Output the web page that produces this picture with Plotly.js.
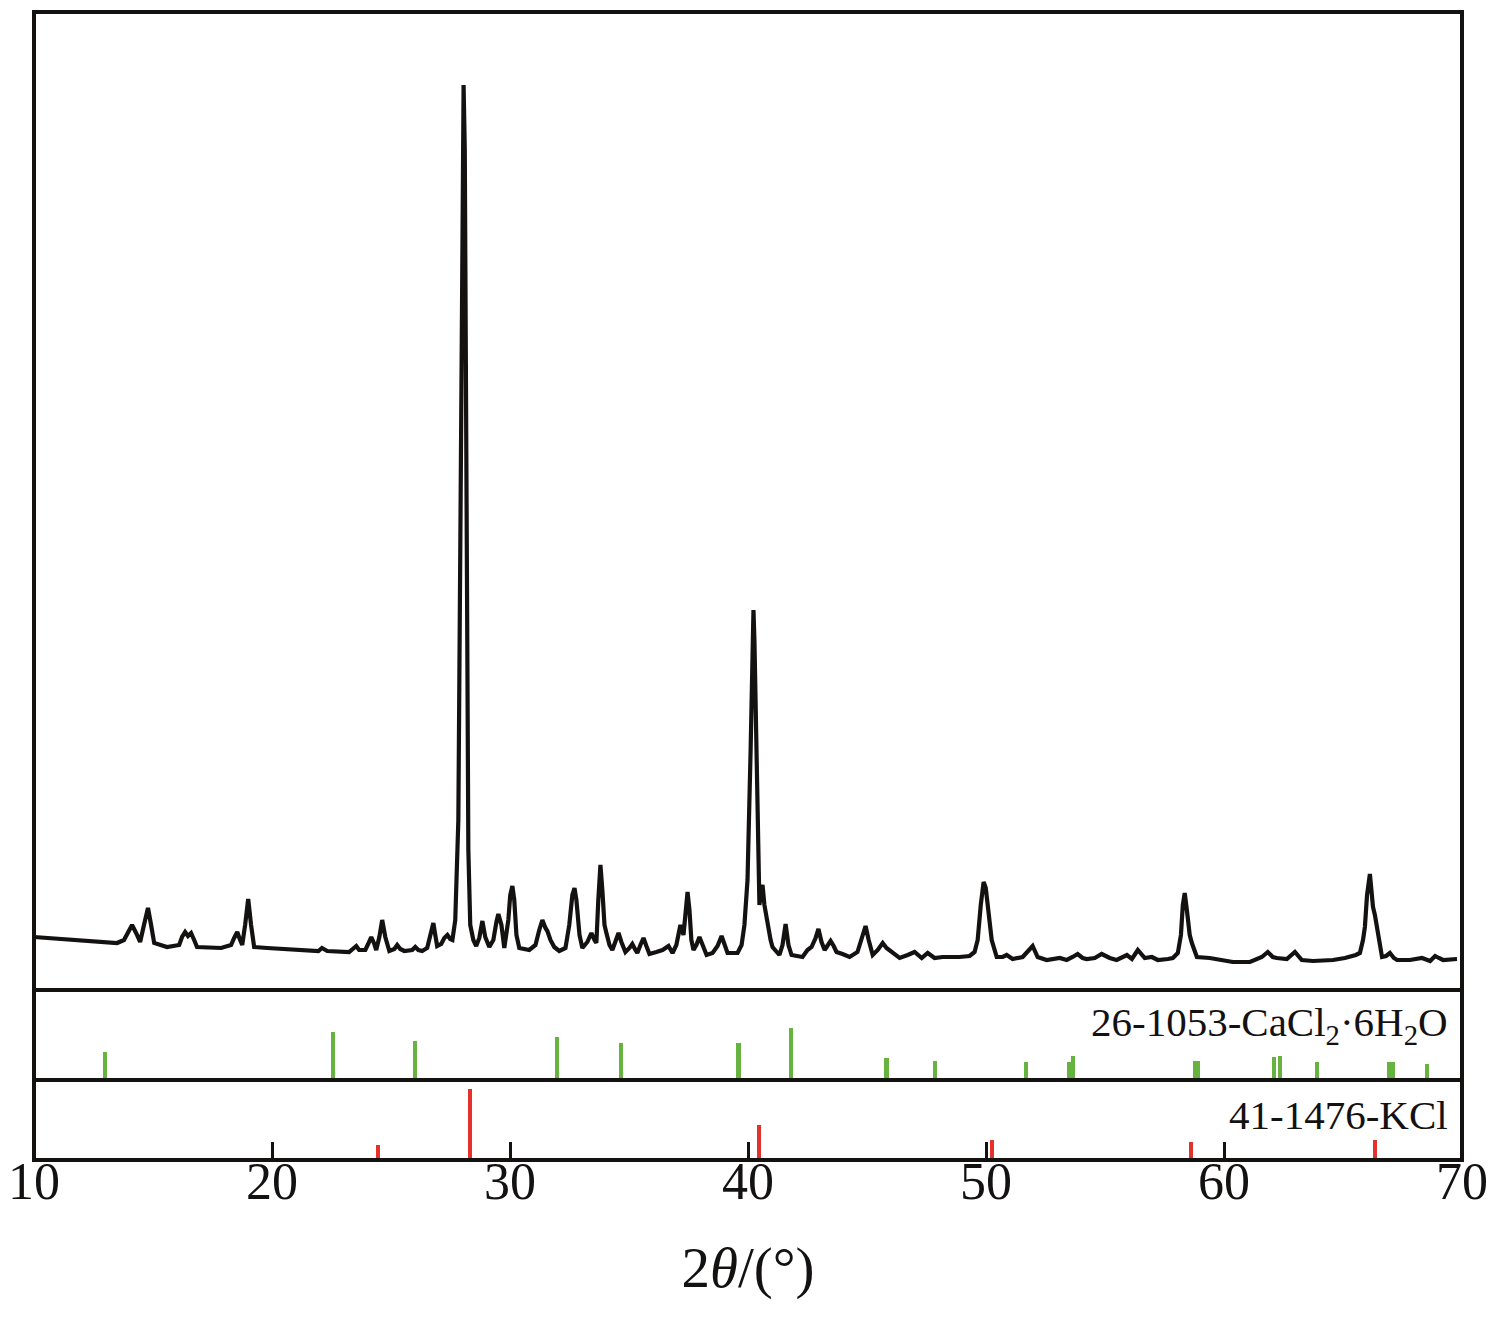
<!DOCTYPE html>
<html>
<head>
<meta charset="utf-8">
<script src="https://cdn.plot.ly/plotly-3.0.1.min.js"></script>
<style>html,body{margin:0;padding:0;background:#fff;}#chart{width:1494px;height:1337px;}</style>
</head>
<body>
<div id="chart"></div>
<script>
// Measured XRD pattern: 2θ (degrees) and intensity (a.u.)
const twoTheta = [10.00,11.05,12.31,13.49,13.78,13.95,14.12,14.29,14.46,14.62,14.79,14.92,15.05,15.59,16.10,16.22,16.35,16.47,16.60,16.73,16.85,17.86,18.28,18.41,18.54,18.66,18.75,18.87,19.00,19.12,19.25,19.80,21.14,21.95,22.10,22.32,23.24,23.41,23.54,23.66,23.92,24.04,24.17,24.30,24.38,24.51,24.63,24.76,24.93,25.14,25.26,25.39,25.56,25.89,26.02,26.15,26.31,26.52,26.65,26.78,26.86,26.94,27.11,27.24,27.37,27.49,27.58,27.70,27.83,27.91,28.00,28.05,28.10,28.16,28.25,28.33,28.46,28.58,28.71,28.84,28.96,29.13,29.30,29.43,29.51,29.64,29.76,29.93,30.01,30.10,30.18,30.27,30.39,30.81,31.07,31.23,31.36,31.49,31.57,31.70,31.86,32.07,32.33,32.49,32.62,32.71,32.79,32.92,33.04,33.25,33.42,33.55,33.63,33.71,33.80,33.88,33.97,34.05,34.18,34.30,34.43,34.56,34.68,34.85,35.02,35.14,35.27,35.35,35.48,35.61,35.73,35.86,36.15,36.41,36.66,36.83,36.99,37.16,37.29,37.37,37.46,37.54,37.62,37.71,37.83,37.96,38.09,38.26,38.51,38.72,38.89,39.01,39.14,39.56,39.73,39.85,39.98,40.11,40.19,40.23,40.27,40.36,40.44,40.48,40.57,40.61,40.69,40.82,40.95,41.03,41.32,41.45,41.58,41.70,41.83,42.29,42.50,42.67,42.84,42.96,43.09,43.22,43.34,43.47,43.60,43.72,43.97,44.27,44.60,44.77,44.94,45.07,45.24,45.45,45.66,45.82,46.03,46.37,46.71,47.00,47.30,47.55,47.84,48.18,48.89,49.31,49.52,49.65,49.78,49.90,49.99,50.07,50.15,50.24,50.45,50.70,50.87,51.12,51.54,51.75,51.96,52.17,52.55,53.10,53.39,53.64,53.85,54.06,54.23,54.57,54.86,55.20,55.49,55.92,56.13,56.38,56.55,56.67,56.97,57.22,57.64,57.85,58.06,58.19,58.27,58.35,58.44,58.48,58.56,58.65,58.86,59.40,59.70,60.37,61.09,61.59,61.84,62.05,62.22,62.64,62.98,63.27,63.74,64.58,65.08,65.29,65.54,65.71,65.84,65.92,66.01,66.13,66.22,66.26,66.34,66.43,66.55,66.64,66.81,66.97,67.14,67.27,67.81,68.32,68.66,68.87,69.03,69.20,69.79];
const intensity = [53,51,49,47,50,58,65,57,48,65,82,65,47,43,45,53,58,54,57,50,43,42,45,52,58,50,45,65,91,65,43,42,40,39,42,39,38,41,44,40,40,46,53,46,40,53,70,53,39,41,45,41,39,40,43,40,39,42,55,67,55,44,46,52,55,51,50,70,170,490,840,905,840,490,140,65,50,44,52,69,53,43,50,68,76,65,42,70,95,104,90,55,42,40,45,60,70,62,59,50,43,39,42,65,95,102,90,55,42,48,57,50,47,90,125,100,65,57,45,40,48,57,48,38,42,46,40,37,45,52,44,36,38,40,44,37,45,65,55,80,98,80,50,40,45,53,45,35,37,44,54,45,37,37,45,65,110,240,350,380,350,240,130,85,102,105,85,65,50,43,35,45,66,45,35,33,40,43,52,61,48,40,44,49,44,38,36,33,38,50,64,50,35,40,47,42,38,32,35,38,32,37,32,33,33,34,38,50,85,108,102,87,65,50,33,33,35,31,33,38,44,33,30,32,30,33,36,32,31,32,36,32,30,35,31,40,35,32,33,30,31,32,37,55,85,97,80,67,55,47,33,32,31,28,28,33,38,33,32,31,38,30,29,30,32,33,35,37,50,63,95,116,95,83,75,63,45,33,34,37,32,30,30,32,29,34,32,30,31];

// Reference card 26-1053 CaCl2·6H2O (stick positions / relative heights)
const caclPos = [13.00,22.57,26.02,31.99,34.68,39.60,41.79,45.82,47.84,51.67,53.48,53.64,58.77,58.90,62.10,62.35,63.90,66.93,67.10,68.53];
const caclInt = [28,48,39,43,37,37,52,22,19,18,18,24,19,19,23,24,18,18,18,16];

// Reference card 41-1476 KCl
const kclPos = [24.46,28.33,40.48,50.24,58.61,66.34];
const kclInt = [15,71,35,20,18,20];

const tickVals = [10,20,30,40,50,60,70];
const tickText = ['10','20','30','40','50','60','70'];

const serif = 'Liberation Serif, Times New Roman, serif';
const ink = '#141111';

const traces = [
  {type:'scatter', mode:'lines', x:twoTheta, y:intensity, xaxis:'x', yaxis:'y',
   line:{color:ink, width:4.2}, hoverinfo:'skip'},
  {type:'bar', x:caclPos, y:caclInt, xaxis:'x', yaxis:'y2', width:0.17,
   marker:{color:'#67b33f', line:{width:0}}, hoverinfo:'skip'},
  {type:'bar', x:kclPos, y:kclInt, xaxis:'x', yaxis:'y3', width:0.17,
   marker:{color:'#e3312c', line:{width:0}}, hoverinfo:'skip'}
];

const s1 = 170/1148, s2 = 80/1148;

const layout = {
  width:1494, height:1337,
  margin:{l:34, r:32, t:12, b:177},
  paper_bgcolor:'#ffffff', plot_bgcolor:'#ffffff',
  showlegend:false, bargap:0,
  xaxis:{range:[10,70], anchor:'y3', tickmode:'array', tickvals:tickVals, ticktext:tickText,
    ticks:'inside', ticklen:18, tickwidth:3, tickcolor:ink, showgrid:false, zeroline:false,
    showline:false, tickfont:{family:serif, size:52, color:ink}, ticklabelstandoff:-14,
    title:{text:'2<i>θ</i>/(°)', font:{family:serif, size:57, color:ink}, standoff:38}},
  yaxis:{domain:[s1,1], range:[0,978], visible:false, fixedrange:true},
  yaxis2:{domain:[s2,s1], range:[0,90], visible:false},
  yaxis3:{domain:[0,s2], range:[0,80], visible:false},
  shapes:[
    {type:'rect', xref:'paper', yref:'paper', x0:0, x1:1, y0:0, y1:1, line:{color:ink, width:4}},
    {type:'line', xref:'paper', yref:'paper', x0:0, x1:1, y0:s1, y1:s1, line:{color:ink, width:4}},
    {type:'line', xref:'paper', yref:'paper', x0:0, x1:1, y0:s2, y1:s2, line:{color:ink, width:4}}
  ],
  annotations:[
    {xref:'paper', yref:'paper', x:(1450-34)/1428, y:135/1148, xanchor:'right', yanchor:'middle',
     showarrow:false, text:'26-1053-CaCl<sub>2</sub>·6H<sub>2</sub>O', font:{family:serif, size:41, color:ink}},
    {xref:'paper', yref:'paper', x:(1450-34)/1428, y:45/1148, xanchor:'right', yanchor:'middle',
     showarrow:false, text:'41-1476-KCl', font:{family:serif, size:41, color:ink}}
  ]
};

Plotly.newPlot('chart', traces, layout, {displayModeBar:false, staticPlot:true});
</script>
</body>
</html>
